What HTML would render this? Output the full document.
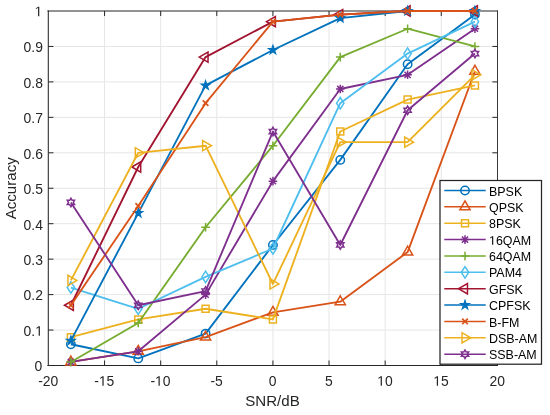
<!DOCTYPE html>
<html><head><meta charset="utf-8"><style>
html,body{margin:0;padding:0;background:#fff;width:550px;height:415px;overflow:hidden}
svg text{font-family:"Liberation Sans",sans-serif}
</style></head><body>
<svg width="550" height="415" viewBox="0 0 550 415" style="position:absolute;left:0;top:0;will-change:transform">
<path d="M104.57 11V365.5M160.69 11V365.5M216.81 11V365.5M272.93 11V365.5M329.04 11V365.5M385.16 11V365.5M441.28 11V365.5M48.45 330.05H497.4M48.45 294.6H497.4M48.45 259.15H497.4M48.45 223.7H497.4M48.45 188.25H497.4M48.45 152.8H497.4M48.45 117.35H497.4M48.45 81.9H497.4M48.45 46.45H497.4" stroke="#e6e6e6" stroke-width="1" fill="none"/>
<path d="M104.57 365.5v-5M104.57 11v5M160.69 365.5v-5M160.69 11v5M216.81 365.5v-5M216.81 11v5M272.93 365.5v-5M272.93 11v5M329.04 365.5v-5M329.04 11v5M385.16 365.5v-5M385.16 11v5M441.28 365.5v-5M441.28 11v5M48.45 330.05h5M497.4 330.05h-5M48.45 294.6h5M497.4 294.6h-5M48.45 259.15h5M497.4 259.15h-5M48.45 223.7h5M497.4 223.7h-5M48.45 188.25h5M497.4 188.25h-5M48.45 152.8h5M497.4 152.8h-5M48.45 117.35h5M497.4 117.35h-5M48.45 81.9h5M497.4 81.9h-5M48.45 46.45h5M497.4 46.45h-5" stroke="#262626" stroke-width="1" fill="none"/>
<path d="M48.3 10.4V365.9" stroke="#262626" stroke-width="1.05"/>
<path d="M47.4 10.95H498" stroke="#262626" stroke-width="1.15"/>
<path d="M497.5 10.4V365.9" stroke="#3a3a3a" stroke-width="1"/>
<path d="M47.4 365.5H498" stroke="#262626" stroke-width="1"/>
<polyline points="70.9,344.23 138.24,358.41 205.58,333.6 272.93,244.97 340.27,159.89 407.61,64.18 474.95,14.55" fill="none" stroke="#0072BD" stroke-width="1.85" stroke-linejoin="round"/>
<circle cx="70.9" cy="344.23" r="4.2" fill="none" stroke="#0072BD" stroke-width="1.5"/>
<circle cx="138.24" cy="358.41" r="4.2" fill="none" stroke="#0072BD" stroke-width="1.5"/>
<circle cx="205.58" cy="333.6" r="4.2" fill="none" stroke="#0072BD" stroke-width="1.5"/>
<circle cx="272.93" cy="244.97" r="4.2" fill="none" stroke="#0072BD" stroke-width="1.5"/>
<circle cx="340.27" cy="159.89" r="4.2" fill="none" stroke="#0072BD" stroke-width="1.5"/>
<circle cx="407.61" cy="64.18" r="4.2" fill="none" stroke="#0072BD" stroke-width="1.5"/>
<circle cx="474.95" cy="14.55" r="4.2" fill="none" stroke="#0072BD" stroke-width="1.5"/>
<polyline points="70.9,361.95 138.24,351.32 205.58,337.14 272.93,312.32 340.27,301.69 407.61,252.06 474.95,71.26" fill="none" stroke="#D95319" stroke-width="1.85" stroke-linejoin="round"/>
<polygon points="70.9,356.06 76.01,364.9 65.79,364.9" fill="none" stroke="#D95319" stroke-width="1.5" stroke-linejoin="miter"/>
<polygon points="138.24,345.42 143.35,354.27 133.13,354.27" fill="none" stroke="#D95319" stroke-width="1.5" stroke-linejoin="miter"/>
<polygon points="205.58,331.24 210.69,340.09 200.47,340.09" fill="none" stroke="#D95319" stroke-width="1.5" stroke-linejoin="miter"/>
<polygon points="272.93,306.43 278.03,315.27 267.82,315.27" fill="none" stroke="#D95319" stroke-width="1.5" stroke-linejoin="miter"/>
<polygon points="340.27,295.79 345.38,304.64 335.16,304.64" fill="none" stroke="#D95319" stroke-width="1.5" stroke-linejoin="miter"/>
<polygon points="407.61,246.16 412.72,255.01 402.5,255.01" fill="none" stroke="#D95319" stroke-width="1.5" stroke-linejoin="miter"/>
<polygon points="474.95,65.36 480.06,74.21 469.84,74.21" fill="none" stroke="#D95319" stroke-width="1.5" stroke-linejoin="miter"/>
<polyline points="70.9,337.14 138.24,319.42 205.58,308.78 272.93,319.42 340.27,131.53 407.61,99.62 474.95,85.44" fill="none" stroke="#EDB120" stroke-width="1.85" stroke-linejoin="round"/>
<polygon points="67.4,333.64 74.4,333.64 74.4,340.64 67.4,340.64" fill="none" stroke="#EDB120" stroke-width="1.5" stroke-linejoin="miter"/>
<polygon points="134.74,315.92 141.74,315.92 141.74,322.92 134.74,322.92" fill="none" stroke="#EDB120" stroke-width="1.5" stroke-linejoin="miter"/>
<polygon points="202.08,305.28 209.08,305.28 209.08,312.28 202.08,312.28" fill="none" stroke="#EDB120" stroke-width="1.5" stroke-linejoin="miter"/>
<polygon points="269.43,315.92 276.43,315.92 276.43,322.92 269.43,322.92" fill="none" stroke="#EDB120" stroke-width="1.5" stroke-linejoin="miter"/>
<polygon points="336.77,128.03 343.77,128.03 343.77,135.03 336.77,135.03" fill="none" stroke="#EDB120" stroke-width="1.5" stroke-linejoin="miter"/>
<polygon points="404.11,96.12 411.11,96.12 411.11,103.12 404.11,103.12" fill="none" stroke="#EDB120" stroke-width="1.5" stroke-linejoin="miter"/>
<polygon points="471.45,81.94 478.45,81.94 478.45,88.94 471.45,88.94" fill="none" stroke="#EDB120" stroke-width="1.5" stroke-linejoin="miter"/>
<polyline points="70.9,361.95 138.24,351.32 205.58,294.6 272.93,181.16 340.27,88.99 407.61,74.81 474.95,28.73" fill="none" stroke="#7E2F8E" stroke-width="1.85" stroke-linejoin="round"/>
<path d="M66.6 361.95H75.2M70.9 357.65V366.25M67.8 358.85L74 365.06M67.8 365.06L74 358.85" stroke="#7E2F8E" stroke-width="1.5" fill="none"/>
<path d="M133.94 351.32H142.54M138.24 347.02V355.62M135.14 348.22L141.34 354.42M135.14 354.42L141.34 348.22" stroke="#7E2F8E" stroke-width="1.5" fill="none"/>
<path d="M201.28 294.6H209.88M205.58 290.3V298.9M202.48 291.5L208.68 297.7M202.48 297.7L208.68 291.5" stroke="#7E2F8E" stroke-width="1.5" fill="none"/>
<path d="M268.62 181.16H277.23M272.93 176.86V185.46M269.82 178.06L276.03 184.26M269.82 184.26L276.03 178.06" stroke="#7E2F8E" stroke-width="1.5" fill="none"/>
<path d="M335.97 88.99H344.57M340.27 84.69V93.29M337.17 85.89L343.37 92.09M337.17 92.09L343.37 85.89" stroke="#7E2F8E" stroke-width="1.5" fill="none"/>
<path d="M403.31 74.81H411.91M407.61 70.51V79.11M404.51 71.71L410.71 77.91M404.51 77.91L410.71 71.71" stroke="#7E2F8E" stroke-width="1.5" fill="none"/>
<path d="M470.65 28.73H479.25M474.95 24.43V33.03M471.85 25.63L478.05 31.83M471.85 31.83L478.05 25.63" stroke="#7E2F8E" stroke-width="1.5" fill="none"/>
<polyline points="70.9,361.95 138.24,322.96 205.58,227.25 272.93,145.71 340.27,57.08 407.61,28.73 474.95,46.45" fill="none" stroke="#77AC30" stroke-width="1.85" stroke-linejoin="round"/>
<path d="M66.6 361.95H75.2M70.9 357.65V366.25" stroke="#77AC30" stroke-width="1.5" fill="none"/>
<path d="M133.94 322.96H142.54M138.24 318.66V327.26" stroke="#77AC30" stroke-width="1.5" fill="none"/>
<path d="M201.28 227.25H209.88M205.58 222.94V231.55" stroke="#77AC30" stroke-width="1.5" fill="none"/>
<path d="M268.62 145.71H277.23M272.93 141.41V150.01" stroke="#77AC30" stroke-width="1.5" fill="none"/>
<path d="M335.97 57.08H344.57M340.27 52.78V61.38" stroke="#77AC30" stroke-width="1.5" fill="none"/>
<path d="M403.31 28.73H411.91M407.61 24.43V33.03" stroke="#77AC30" stroke-width="1.5" fill="none"/>
<path d="M470.65 46.45H479.25M474.95 42.15V50.75" stroke="#77AC30" stroke-width="1.5" fill="none"/>
<polyline points="70.9,287.51 138.24,308.78 205.58,276.88 272.93,248.51 340.27,103.17 407.61,53.54 474.95,21.63" fill="none" stroke="#4DBEEE" stroke-width="1.85" stroke-linejoin="round"/>
<polygon points="70.9,281.81 74.6,287.51 70.9,293.21 67.2,287.51" fill="none" stroke="#4DBEEE" stroke-width="1.5" stroke-linejoin="miter"/>
<polygon points="138.24,303.08 141.94,308.78 138.24,314.48 134.54,308.78" fill="none" stroke="#4DBEEE" stroke-width="1.5" stroke-linejoin="miter"/>
<polygon points="205.58,271.18 209.28,276.88 205.58,282.57 201.88,276.88" fill="none" stroke="#4DBEEE" stroke-width="1.5" stroke-linejoin="miter"/>
<polygon points="272.93,242.81 276.62,248.51 272.93,254.21 269.23,248.51" fill="none" stroke="#4DBEEE" stroke-width="1.5" stroke-linejoin="miter"/>
<polygon points="340.27,97.47 343.97,103.17 340.27,108.87 336.57,103.17" fill="none" stroke="#4DBEEE" stroke-width="1.5" stroke-linejoin="miter"/>
<polygon points="407.61,47.84 411.31,53.54 407.61,59.24 403.91,53.54" fill="none" stroke="#4DBEEE" stroke-width="1.5" stroke-linejoin="miter"/>
<polygon points="474.95,15.93 478.65,21.63 474.95,27.33 471.25,21.63" fill="none" stroke="#4DBEEE" stroke-width="1.5" stroke-linejoin="miter"/>
<polyline points="70.9,305.24 138.24,166.98 205.58,57.08 272.93,21.63 340.27,14.55 407.61,11 474.95,11" fill="none" stroke="#A2142F" stroke-width="1.85" stroke-linejoin="round"/>
<polygon points="64.5,305.24 73.35,300.13 73.35,310.34" fill="none" stroke="#A2142F" stroke-width="1.5" stroke-linejoin="miter"/>
<polygon points="131.84,166.98 140.69,161.87 140.69,172.09" fill="none" stroke="#A2142F" stroke-width="1.5" stroke-linejoin="miter"/>
<polygon points="199.18,57.08 208.03,51.98 208.03,62.19" fill="none" stroke="#A2142F" stroke-width="1.5" stroke-linejoin="miter"/>
<polygon points="266.53,21.63 275.38,16.53 275.38,26.74" fill="none" stroke="#A2142F" stroke-width="1.5" stroke-linejoin="miter"/>
<polygon points="333.87,14.55 342.72,9.44 342.72,19.65" fill="none" stroke="#A2142F" stroke-width="1.5" stroke-linejoin="miter"/>
<polygon points="401.21,11 410.06,5.89 410.06,16.11" fill="none" stroke="#A2142F" stroke-width="1.5" stroke-linejoin="miter"/>
<polygon points="468.55,11 477.4,5.89 477.4,16.11" fill="none" stroke="#A2142F" stroke-width="1.5" stroke-linejoin="miter"/>
<polyline points="70.9,340.69 138.24,213.06 205.58,85.44 272.93,50 340.27,18.09 407.61,11 474.95,11" fill="none" stroke="#0072BD" stroke-width="1.85" stroke-linejoin="round"/>
<polygon points="70.9,335.88 71.98,339.2 75.46,339.2 72.64,341.25 73.72,344.57 70.9,342.52 68.08,344.57 69.15,341.25 66.33,339.2 69.82,339.2" fill="#0072BD" stroke="#0072BD" stroke-width="1.1" stroke-linejoin="miter" stroke-miterlimit="10"/>
<polygon points="138.24,208.26 139.32,211.58 142.81,211.58 139.98,213.63 141.06,216.95 138.24,214.9 135.42,216.95 136.5,213.63 133.67,211.58 137.16,211.58" fill="#0072BD" stroke="#0072BD" stroke-width="1.1" stroke-linejoin="miter" stroke-miterlimit="10"/>
<polygon points="205.58,80.64 206.66,83.96 210.15,83.96 207.33,86.01 208.4,89.33 205.58,87.28 202.76,89.33 203.84,86.01 201.02,83.96 204.5,83.96" fill="#0072BD" stroke="#0072BD" stroke-width="1.1" stroke-linejoin="miter" stroke-miterlimit="10"/>
<polygon points="272.93,45.2 274,48.51 277.49,48.51 274.67,50.56 275.75,53.88 272.93,51.83 270.1,53.88 271.18,50.56 268.36,48.51 271.85,48.51" fill="#0072BD" stroke="#0072BD" stroke-width="1.1" stroke-linejoin="miter" stroke-miterlimit="10"/>
<polygon points="340.27,13.29 341.35,16.61 344.83,16.61 342.01,18.66 343.09,21.97 340.27,19.92 337.45,21.97 338.52,18.66 335.7,16.61 339.19,16.61" fill="#0072BD" stroke="#0072BD" stroke-width="1.1" stroke-linejoin="miter" stroke-miterlimit="10"/>
<polygon points="407.61,6.2 408.69,9.52 412.18,9.52 409.35,11.57 410.43,14.88 407.61,12.83 404.79,14.88 405.87,11.57 403.04,9.52 406.53,9.52" fill="#0072BD" stroke="#0072BD" stroke-width="1.1" stroke-linejoin="miter" stroke-miterlimit="10"/>
<polygon points="474.95,6.2 476.03,9.52 479.52,9.52 476.7,11.57 477.77,14.88 474.95,12.83 472.13,14.88 473.21,11.57 470.39,9.52 473.87,9.52" fill="#0072BD" stroke="#0072BD" stroke-width="1.1" stroke-linejoin="miter" stroke-miterlimit="10"/>
<polyline points="70.9,305.24 138.24,205.97 205.58,103.17 272.93,21.63 340.27,14.55 407.61,11 474.95,11" fill="none" stroke="#D95319" stroke-width="1.85" stroke-linejoin="round"/>
<path d="M68.1 302.44L73.7 308.04M68.1 308.04L73.7 302.44" stroke="#D95319" stroke-width="1.7" fill="none"/>
<path d="M135.44 203.17L141.04 208.78M135.44 208.78L141.04 203.17" stroke="#D95319" stroke-width="1.7" fill="none"/>
<path d="M202.78 100.37L208.38 105.97M202.78 105.97L208.38 100.37" stroke="#D95319" stroke-width="1.7" fill="none"/>
<path d="M270.12 18.83L275.73 24.43M270.12 24.43L275.73 18.83" stroke="#D95319" stroke-width="1.7" fill="none"/>
<path d="M337.47 11.75L343.07 17.35M337.47 17.35L343.07 11.75" stroke="#D95319" stroke-width="1.7" fill="none"/>
<path d="M404.81 8.2L410.41 13.8M404.81 13.8L410.41 8.2" stroke="#D95319" stroke-width="1.7" fill="none"/>
<path d="M472.15 8.2L477.75 13.8M472.15 13.8L477.75 8.2" stroke="#D95319" stroke-width="1.7" fill="none"/>
<polyline points="70.9,280.42 138.24,152.8 205.58,145.71 272.93,283.97 340.27,142.16 407.61,142.16 474.95,74.81" fill="none" stroke="#EDB120" stroke-width="1.85" stroke-linejoin="round"/>
<polygon points="76.8,280.42 67.95,275.31 67.95,285.53" fill="none" stroke="#EDB120" stroke-width="1.5" stroke-linejoin="miter"/>
<polygon points="144.14,152.8 135.29,147.69 135.29,157.91" fill="none" stroke="#EDB120" stroke-width="1.5" stroke-linejoin="miter"/>
<polygon points="211.48,145.71 202.63,140.6 202.63,150.82" fill="none" stroke="#EDB120" stroke-width="1.5" stroke-linejoin="miter"/>
<polygon points="278.82,283.97 269.98,278.86 269.98,289.07" fill="none" stroke="#EDB120" stroke-width="1.5" stroke-linejoin="miter"/>
<polygon points="346.17,142.16 337.32,137.06 337.32,147.27" fill="none" stroke="#EDB120" stroke-width="1.5" stroke-linejoin="miter"/>
<polygon points="413.51,142.16 404.66,137.06 404.66,147.27" fill="none" stroke="#EDB120" stroke-width="1.5" stroke-linejoin="miter"/>
<polygon points="480.85,74.81 472,69.7 472,79.92" fill="none" stroke="#EDB120" stroke-width="1.5" stroke-linejoin="miter"/>
<polyline points="70.9,202.43 138.24,305.24 205.58,291.06 272.93,131.53 340.27,244.97 407.61,110.26 474.95,53.54" fill="none" stroke="#7E2F8E" stroke-width="1.85" stroke-linejoin="round"/>
<polygon points="70.9,198.23 72.11,200.33 74.53,200.33 73.32,202.43 74.53,204.53 72.11,204.53 70.9,206.63 69.69,204.53 67.26,204.53 68.47,202.43 67.26,200.33 69.69,200.33" fill="none" stroke="#7E2F8E" stroke-width="1.5" stroke-linejoin="miter"/>
<polygon points="138.24,301.04 139.45,303.13 141.88,303.13 140.66,305.24 141.88,307.34 139.45,307.34 138.24,309.44 137.03,307.34 134.6,307.34 135.82,305.24 134.6,303.13 137.03,303.13" fill="none" stroke="#7E2F8E" stroke-width="1.5" stroke-linejoin="miter"/>
<polygon points="205.58,286.86 206.79,288.95 209.22,288.95 208.01,291.06 209.22,293.16 206.79,293.16 205.58,295.25 204.37,293.16 201.95,293.16 203.16,291.06 201.95,288.95 204.37,288.95" fill="none" stroke="#7E2F8E" stroke-width="1.5" stroke-linejoin="miter"/>
<polygon points="272.93,127.33 274.14,129.43 276.56,129.43 275.35,131.53 276.56,133.63 274.14,133.63 272.93,135.73 271.71,133.63 269.29,133.63 270.5,131.53 269.29,129.43 271.71,129.43" fill="none" stroke="#7E2F8E" stroke-width="1.5" stroke-linejoin="miter"/>
<polygon points="340.27,240.77 341.48,242.87 343.9,242.87 342.69,244.97 343.9,247.07 341.48,247.07 340.27,249.17 339.06,247.07 336.63,247.07 337.84,244.97 336.63,242.87 339.06,242.87" fill="none" stroke="#7E2F8E" stroke-width="1.5" stroke-linejoin="miter"/>
<polygon points="407.61,106.06 408.82,108.16 411.25,108.16 410.03,110.26 411.25,112.36 408.82,112.36 407.61,114.46 406.4,112.36 403.97,112.36 405.19,110.26 403.97,108.16 406.4,108.16" fill="none" stroke="#7E2F8E" stroke-width="1.5" stroke-linejoin="miter"/>
<polygon points="474.95,49.34 476.16,51.44 478.59,51.44 477.38,53.54 478.59,55.64 476.16,55.64 474.95,57.74 473.74,55.64 471.32,55.64 472.53,53.54 471.32,51.44 473.74,51.44" fill="none" stroke="#7E2F8E" stroke-width="1.5" stroke-linejoin="miter"/>
<text x="38.16" y="385.80" font-size="13.9" fill="#262626">-20</text>
<text x="94.27" y="385.80" font-size="13.9" fill="#262626">-&#8199;5</text><path d="M515 0L696 0L696 1409L530 1409L197 1180L197 1010L515 1237Z" fill="#262626" transform="translate(98.903 385.800) scale(0.006787 -0.006787)"/>
<text x="150.39" y="385.80" font-size="13.9" fill="#262626">-&#8199;0</text><path d="M515 0L696 0L696 1409L530 1409L197 1180L197 1010L515 1237Z" fill="#262626" transform="translate(155.021 385.800) scale(0.006787 -0.006787)"/>
<text x="210.38" y="385.80" font-size="13.9" fill="#262626">-5</text>
<text x="268.81" y="385.80" font-size="13.9" fill="#262626">0</text>
<text x="324.93" y="385.80" font-size="13.9" fill="#262626">5</text>
<text x="377.18" y="385.80" font-size="13.9" fill="#262626">&#8199;0</text><path d="M515 0L696 0L696 1409L530 1409L197 1180L197 1010L515 1237Z" fill="#262626" transform="translate(377.182 385.800) scale(0.006787 -0.006787)"/>
<text x="433.30" y="385.80" font-size="13.9" fill="#262626">&#8199;5</text><path d="M515 0L696 0L696 1409L530 1409L197 1180L197 1010L515 1237Z" fill="#262626" transform="translate(433.301 385.800) scale(0.006787 -0.006787)"/>
<text x="489.42" y="385.80" font-size="13.9" fill="#262626">20</text>
<text x="34.47" y="371.30" font-size="13.9" fill="#262626">0</text>
<text x="23.58" y="335.85" font-size="13.9" fill="#262626">0.&#8199;</text><path d="M515 0L696 0L696 1409L530 1409L197 1180L197 1010L515 1237Z" fill="#262626" transform="translate(35.169 335.850) scale(0.006787 -0.006787)"/>
<text x="23.58" y="300.40" font-size="13.9" fill="#262626">0.2</text>
<text x="23.58" y="264.95" font-size="13.9" fill="#262626">0.3</text>
<text x="23.58" y="229.50" font-size="13.9" fill="#262626">0.4</text>
<text x="23.58" y="194.05" font-size="13.9" fill="#262626">0.5</text>
<text x="23.58" y="158.60" font-size="13.9" fill="#262626">0.6</text>
<text x="23.58" y="123.15" font-size="13.9" fill="#262626">0.7</text>
<text x="23.58" y="87.70" font-size="13.9" fill="#262626">0.8</text>
<text x="23.58" y="52.25" font-size="13.9" fill="#262626">0.9</text>
<text x="34.57" y="16.20" font-size="13.9" fill="#262626">&#8199;</text><path d="M515 0L696 0L696 1409L530 1409L197 1180L197 1010L515 1237Z" fill="#262626" transform="translate(34.569 16.200) scale(0.006787 -0.006787)"/>
<text x="272.5" y="406.2" text-anchor="middle" font-size="15.1" fill="#262626">SNR/dB</text>
<text transform="translate(16,188.3) rotate(-90)" text-anchor="middle" font-size="15.1" fill="#262626">Accuracy</text>
<rect x="440" y="180.5" width="101.5" height="183.7" fill="#fff" stroke="#262626" stroke-width="1.25"/>
<path d="M444.3 190.5H485.7" stroke="#0072BD" stroke-width="1.5"/>
<circle cx="465" cy="190.5" r="4.2" fill="none" stroke="#0072BD" stroke-width="1.5"/>
<text x="489.00" y="195.60" font-size="12.45" fill="#000">BPSK</text>
<path d="M444.3 206.87H485.7" stroke="#D95319" stroke-width="1.5"/>
<polygon points="465,200.97 470.11,209.82 459.89,209.82" fill="none" stroke="#D95319" stroke-width="1.5" stroke-linejoin="miter"/>
<text x="489.00" y="211.97" font-size="12.45" fill="#000">QPSK</text>
<path d="M444.3 223.24H485.7" stroke="#EDB120" stroke-width="1.5"/>
<polygon points="461.5,219.74 468.5,219.74 468.5,226.74 461.5,226.74" fill="none" stroke="#EDB120" stroke-width="1.5" stroke-linejoin="miter"/>
<text x="489.00" y="228.34" font-size="12.45" fill="#000">8PSK</text>
<path d="M444.3 239.61H485.7" stroke="#7E2F8E" stroke-width="1.5"/>
<path d="M460.7 239.61H469.3M465 235.31V243.91M461.9 236.51L468.1 242.71M461.9 242.71L468.1 236.51" stroke="#7E2F8E" stroke-width="1.5" fill="none"/>
<text x="489.00" y="244.71" font-size="12.45" fill="#000">&#8199;6QAM</text><path d="M515 0L696 0L696 1409L530 1409L197 1180L197 1010L515 1237Z" fill="#000" transform="translate(489.000 244.710) scale(0.006079 -0.006079)"/>
<path d="M444.3 255.98H485.7" stroke="#77AC30" stroke-width="1.5"/>
<path d="M460.7 255.98H469.3M465 251.68V260.28" stroke="#77AC30" stroke-width="1.5" fill="none"/>
<text x="489.00" y="261.08" font-size="12.45" fill="#000">64QAM</text>
<path d="M444.3 272.35H485.7" stroke="#4DBEEE" stroke-width="1.5"/>
<polygon points="465,266.65 468.7,272.35 465,278.05 461.3,272.35" fill="none" stroke="#4DBEEE" stroke-width="1.5" stroke-linejoin="miter"/>
<text x="489.00" y="277.45" font-size="12.45" fill="#000">PAM4</text>
<path d="M444.3 288.72H485.7" stroke="#A2142F" stroke-width="1.5"/>
<polygon points="458.6,288.72 467.45,283.61 467.45,293.83" fill="none" stroke="#A2142F" stroke-width="1.5" stroke-linejoin="miter"/>
<text x="489.00" y="293.82" font-size="12.45" fill="#000">GFSK</text>
<path d="M444.3 305.09H485.7" stroke="#0072BD" stroke-width="1.5"/>
<polygon points="465,300.29 466.08,303.61 469.57,303.61 466.74,305.66 467.82,308.97 465,306.92 462.18,308.97 463.26,305.66 460.43,303.61 463.92,303.61" fill="#0072BD" stroke="#0072BD" stroke-width="1.1" stroke-linejoin="miter" stroke-miterlimit="10"/>
<text x="489.00" y="310.19" font-size="12.45" fill="#000">CPFSK</text>
<path d="M444.3 321.46H485.7" stroke="#D95319" stroke-width="1.5"/>
<path d="M462.2 318.66L467.8 324.26M462.2 324.26L467.8 318.66" stroke="#D95319" stroke-width="1.7" fill="none"/>
<text x="489.00" y="326.56" font-size="12.45" fill="#000">B-FM</text>
<path d="M444.3 337.83H485.7" stroke="#EDB120" stroke-width="1.5"/>
<polygon points="470.9,337.83 462.05,332.72 462.05,342.94" fill="none" stroke="#EDB120" stroke-width="1.5" stroke-linejoin="miter"/>
<text x="489.00" y="342.93" font-size="12.45" fill="#000">DSB-AM</text>
<path d="M444.3 354.2H485.7" stroke="#7E2F8E" stroke-width="1.5"/>
<polygon points="465,350 466.21,352.1 468.64,352.1 467.42,354.2 468.64,356.3 466.21,356.3 465,358.4 463.79,356.3 461.36,356.3 462.58,354.2 461.36,352.1 463.79,352.1" fill="none" stroke="#7E2F8E" stroke-width="1.5" stroke-linejoin="miter"/>
<text x="489.00" y="359.30" font-size="12.45" fill="#000">SSB-AM</text>
</svg>
</body></html>
